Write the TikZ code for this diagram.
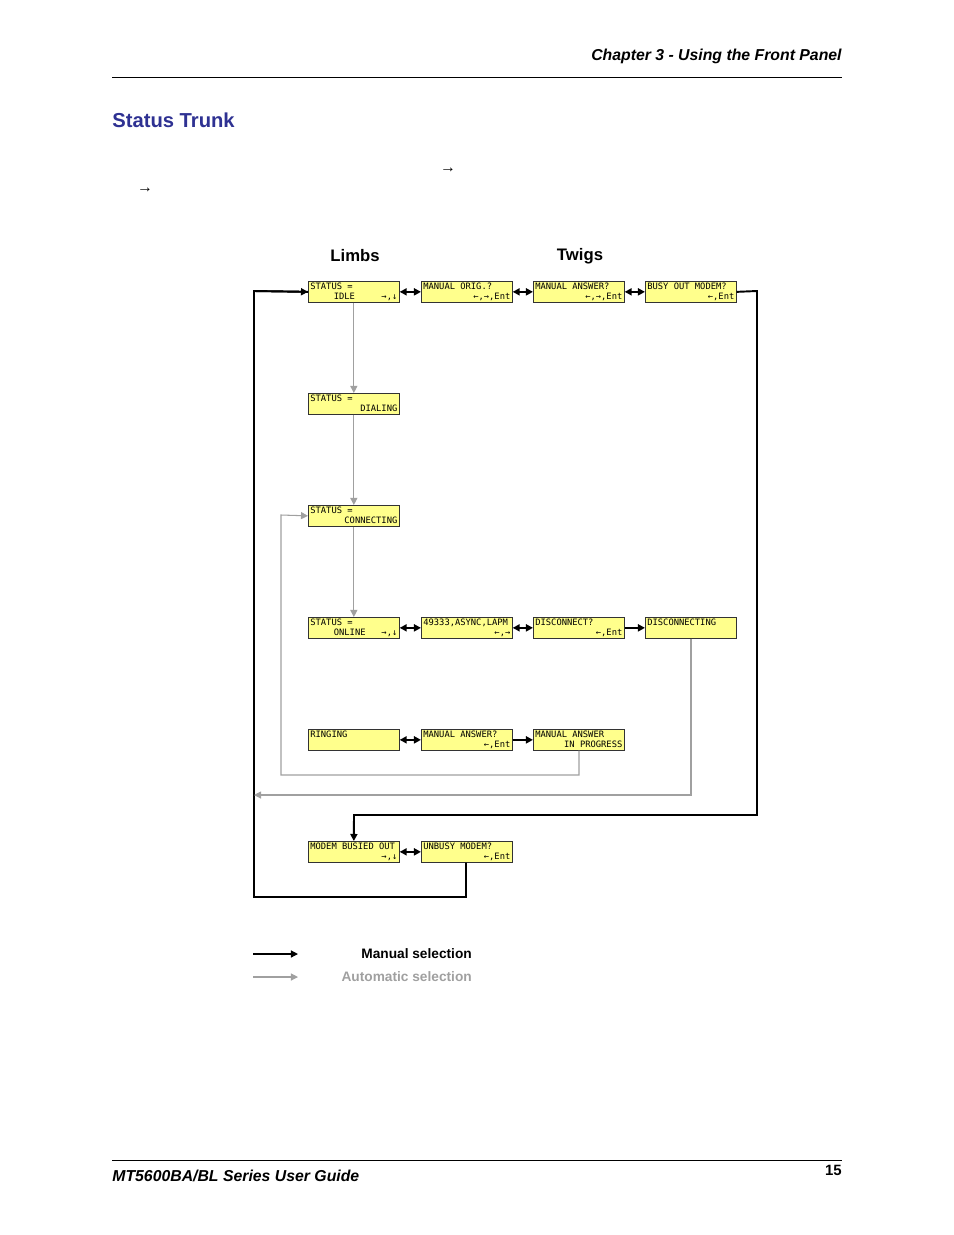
\documentclass[tikz,border=0pt]{standalone}
\usepackage{fontspec}
\setmainfont{Liberation Sans}
\newfontfamily\lcdfont{DejaVu Sans Mono}
\usetikzlibrary{arrows.meta}
\definecolor{lcdyellow}{RGB}{255,255,140}
\definecolor{titleblue}{RGB}{46,49,146}
\definecolor{autogray}{RGB}{160,160,160}
\tikzset{
  lcd/.style={draw=black!80,fill=lcdyellow,anchor=north west,minimum width=1.82cm,
    minimum height=0.42cm,inner sep=1pt,align=left},
  manual/.style={draw=black,line width=1.1pt,-{Triangle[length=4pt,width=4pt]}},
  both/.style={manual,{Triangle[length=4pt,width=4pt]}-{Triangle[length=4pt,width=4pt]}},
  auto/.style={draw=autogray,line width=0.6pt,-{Triangle[length=4pt,width=4pt]}},
}
\newcommand{\lcdtext}[2]{\parbox[t][0.34cm][t]{1.74cm}{\lcdfont\fontsize{5}{5.2}\selectfont #1\\\hspace*{\fill}#2}}
\begin{document}
\begin{tikzpicture}[x=0.02cm,y=-0.02cm]
\useasboundingbox (0,0) rectangle (954,1235);
% header and footer
\node[anchor=base east,inner sep=0,font=\bfseries\itshape\fontsize{9}{10}\selectfont] (chap) at (842,60) {Chapter 3 - Using the Front Panel};
\draw[line width=0.5pt] (112,77) -- (842,77);
\node[anchor=base west,font=\bfseries\fontsize{11.5}{12}\selectfont,text=titleblue,inner sep=0] (title) at (112,127) {Status Trunk};
\node[font=\fontsize{9}{10}\selectfont] (ar1) at (448,170) {→};
\node[font=\fontsize{9}{10}\selectfont] (ar2) at (145,190) {→};
\node[font=\bfseries\fontsize{9.5}{10}\selectfont] (limbs) at (355,256) {Limbs};
\node[font=\bfseries\fontsize{9.5}{10}\selectfont] (twigs) at (580,256) {Twigs};
\draw[line width=0.5pt] (112,1160) -- (842,1160);
\node[anchor=base west,inner sep=0,font=\bfseries\itshape\fontsize{9}{10}\selectfont] (guide) at (112,1181) {MT5600BA/BL Series User Guide};
\node[anchor=base east,inner sep=0,font=\bfseries\fontsize{8.5}{10}\selectfont] (page) at (842,1175) {15};
% limbs
\node[lcd] (idle) at (308,281) {\lcdtext{STATUS =}{IDLE~~~~~→,↓}};
\node[lcd] (dial) at (308,393) {\lcdtext{STATUS =}{DIALING\hfill}};
\node[lcd] (conn) at (308,505) {\lcdtext{STATUS =}{CONNECTING\hfill}};
\node[lcd] (online) at (308,617) {\lcdtext{STATUS =}{ONLINE~~~→,↓}};
\node[lcd] (ring) at (308,729) {\lcdtext{RINGING}{}};
\node[lcd] (busied) at (308,841) {\lcdtext{MODEM BUSIED OUT}{→,↓}};
% twigs
\node[lcd] (orig) at (421,281) {\lcdtext{MANUAL ORIG.?}{←,→,Ent}};
\node[lcd] (answer) at (533,281) {\lcdtext{MANUAL ANSWER?}{←,→,Ent}};
\node[lcd] (busyout) at (645,281) {\lcdtext{BUSY OUT MODEM?}{←,Ent}};
\node[lcd] (async) at (421,617) {\lcdtext{49333,ASYNC,LAPM}{←,→}};
\node[lcd] (disc) at (533,617) {\lcdtext{DISCONNECT?}{←,Ent}};
\node[lcd] (discing) at (645,617) {\lcdtext{DISCONNECTING}{}};
\node[lcd] (ranswer) at (421,729) {\lcdtext{MANUAL ANSWER?}{←,Ent}};
\node[lcd] (progress) at (533,729) {\lcdtext{MANUAL ANSWER}{IN PROGRESS\hfill}};
\node[lcd] (unbusy) at (421,841) {\lcdtext{UNBUSY MODEM?}{←,Ent}};
% manual selection
\draw[both] (idle) -- (orig);
\draw[both] (orig) -- (answer);
\draw[both] (answer) -- (busyout);
\draw[both] (online) -- (async);
\draw[both] (async) -- (disc);
\draw[manual] (disc) -- (discing);
\draw[both] (ring) -- (ranswer);
\draw[manual] (ranswer) -- (progress);
\draw[both] (busied) -- (unbusy);
\draw[manual] (busyout.east) -- (757,291) -- (757,815) -- (354,815) -- (busied.north);
\draw[manual,-] (unbusy.south -| 466,0) -- (466,897) -- (254,897) -- (254,291) -- (idle.west);
\draw[manual] (254,291) -- (idle.west);
% automatic selection
\draw[auto] (idle) -- (dial);
\draw[auto] (dial) -- (conn);
\draw[auto] (conn) -- (online);
\draw[auto] (progress.south -| 579,0) -- (579,775) -- (281,775) -- (281,515) -- (conn.west);
\coordinate (autoend) at (254,795);
\draw[auto] (discing.south -| 691,0) -- (691,795) -- (autoend);
% legend
\coordinate (lm1) at (253,954); \coordinate (lm2) at (298,954);
\coordinate (la1) at (253,977); \coordinate (la2) at (298,977);
\draw[manual,line width=0.7pt] (lm1) -- (lm2);
\draw[auto] (la1) -- (la2);
\node[anchor=east,font=\bfseries\fontsize{7.8}{9}\selectfont] (lmanual) at (478,954) {Manual selection};
\node[anchor=east,text=autogray,font=\bfseries\fontsize{7.8}{9}\selectfont] (lauto) at (478,977) {Automatic selection};
\end{tikzpicture}
\end{document}
